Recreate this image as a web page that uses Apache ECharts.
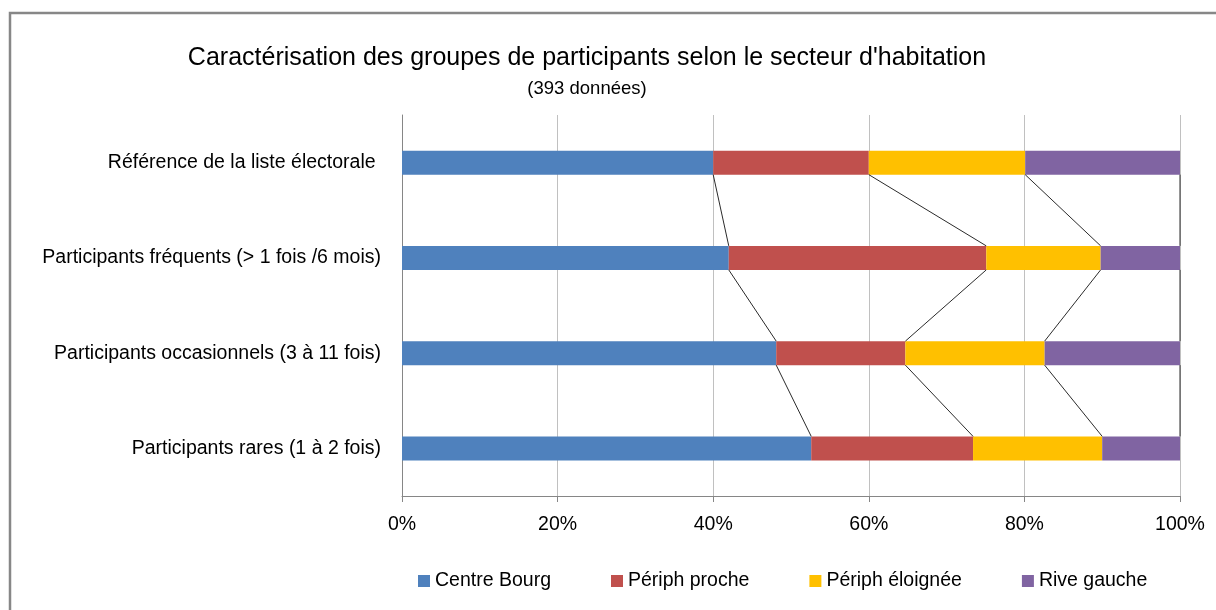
<!DOCTYPE html>
<html>
<head>
<meta charset="utf-8">
<script src="https://cdn.jsdelivr.net/npm/echarts@6/dist/echarts.min.js"></script>
<style>
  html, body { margin: 0; padding: 0; background: #fff; }
  #chart { width: 1216px; height: 610px; }
</style>
</head>
<body>
<div id="chart"></div>
<script>
// categories (top to bottom)
var categories = [
  'Référence de la liste électorale ',
  'Participants fréquents (> 1 fois /6 mois)',
  'Participants occasionnels (3 à 11 fois)',
  'Participants rares (1 à 2 fois)'
];
// parts in %
var centreBourg = [40.0, 42.0, 48.1, 52.6];
var periphProche = [20.0, 33.1, 16.6, 20.8];
var periphEloignee = [20.1, 14.7, 17.9, 16.6];
var riveGauche = [19.9, 10.2, 17.4, 10.0];

var seriesNames = ['Centre Bourg', 'Périph proche', 'Périph éloignée', 'Rive gauche'];
var colors = ['#4F81BD', '#C0504D', '#FFC000', '#8064A2'];
var xTicks = [0, 20, 40, 60, 80, 100];

var allData = [centreBourg, periphProche, periphEloignee, riveGauche];

// lignes de séries : bornes cumulées d'une barre à la suivante
var joinData = [];
for (var r = 0; r < categories.length - 1; r++) {
  var c1 = 0, c2 = 0;
  for (var s = 0; s < allData.length; s++) {
    c1 += allData[s][r];
    c2 += allData[s][r + 1];
    joinData.push([c1, r, c2, r + 1]);
  }
}

var barWidth = 24;
var fontFam = '"Liberation Sans", Arial, sans-serif';

var seriesArr = [];
for (var i = 0; i < seriesNames.length; i++) {
  seriesArr.push({
    name: seriesNames[i],
    type: 'bar',
    stack: 'tot',
    barWidth: barWidth,
    itemStyle: { color: colors[i] },
    data: allData[i]
  });
}
seriesArr.push({
  type: 'custom',
  name: 'lignes',
  silent: true,
  z: 5,
  renderItem: function(params, api) {
    var p1 = api.coord([api.value(0), api.value(1)]);
    var p2 = api.coord([api.value(2), api.value(3)]);
    var h = barWidth / 2;
    return {
      type: 'line',
      shape: { x1: p1[0], y1: p1[1] + h, x2: p2[0], y2: p2[1] - h },
      style: { stroke: '#2a2a2a', lineWidth: 1 }
    };
  },
  encode: { x: [0, 2], y: [1, 3] },
  data: joinData
});

var chart = echarts.init(document.getElementById('chart'));
var option = {
  animation: false,
  textStyle: { fontFamily: fontFam },
  graphic: [
    {
      type: 'rect',
      shape: { x: 10, y: 13, width: 1300, height: 700 },
      style: { fill: 'none', stroke: '#878787', lineWidth: 2.5 },
      silent: true
    },
    {
      type: 'text',
      x: 587, y: 58,
      style: {
        text: "Caractérisation des groupes de participants selon le secteur d'habitation",
        textAlign: 'center', textVerticalAlign: 'middle',
        font: '25px ' + fontFam, fill: '#000'
      }
    },
    {
      type: 'text',
      x: 587, y: 89,
      style: {
        text: '(393 données)',
        textAlign: 'center', textVerticalAlign: 'middle',
        font: '18.5px ' + fontFam, fill: '#000'
      }
    }
  ],
  legend: {
    data: seriesNames,
    left: 413,
    top: 566,
    icon: 'rect',
    itemWidth: 12,
    itemHeight: 12,
    itemGap: 60,
    textStyle: { fontSize: 19.5, color: '#000' }
  },
  grid: { left: 402, right: 36, top: 115, bottom: 114 },
  xAxis: {
    type: 'value',
    min: 0,
    max: 100,
    interval: 20,
    axisLine: { show: true, lineStyle: { color: '#868686', width: 1 } },
    axisTick: { show: true, length: 6, lineStyle: { color: '#868686' } },
    splitLine: { show: true, lineStyle: { color: '#C0C0C0', width: 1 } },
    axisLabel: {
      fontSize: 19.5, color: '#000', margin: 19,
      formatter: function(v) { return xTicks.indexOf(v) > -1 ? v + '%' : ''; }
    }
  },
  yAxis: {
    type: 'category',
    inverse: true,
    data: categories,
    axisLine: { show: true, lineStyle: { color: '#868686', width: 1 } },
    axisTick: { show: false },
    axisLabel: { fontSize: 19.5, color: '#000', margin: 21 }
  },
  series: seriesArr
};
chart.setOption(option);
</script>
</body>
</html>
